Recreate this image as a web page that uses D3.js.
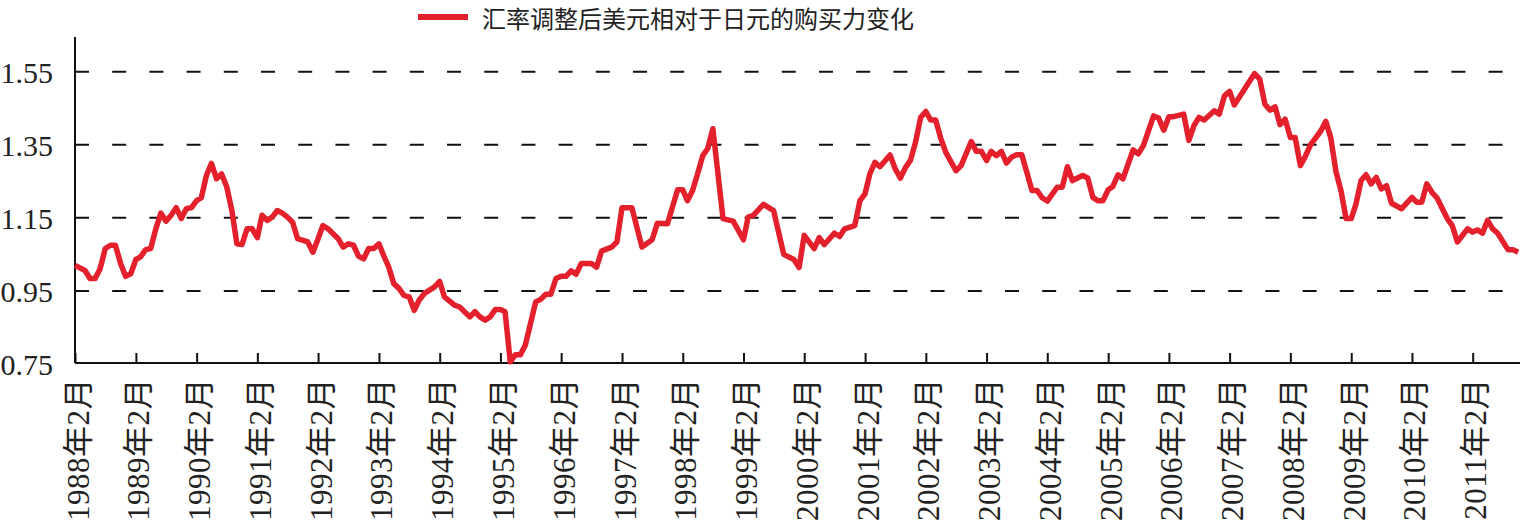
<!DOCTYPE html>
<html>
<head>
<meta charset="utf-8">
<script src="https://cdn.jsdelivr.net/npm/d3@7"></script>
<style>
  html, body { margin: 0; padding: 0; background: #fff; }
  svg { display: block; }
  .axis path, .axis line { stroke: #111; stroke-width: 2; }
  .axis text { fill: #222; font-family: "Liberation Serif", "Noto Sans CJK SC", serif; }
  .grid line { stroke: #111; stroke-width: 2; stroke-dasharray: 14 23.2; }
</style>
</head>
<body>
<svg id="canvas" width="1520" height="526"></svg>
<script>
const legendLabel = "汇率调整后美元相对于日元的购买力变化";
const yTicks = [0.75, 0.95, 1.15, 1.35, 1.55];
const xTickYears = d3.range(1988, 2012);

const dates = [
  "1988-02","1988-04","1988-05","1988-06","1988-07","1988-08","1988-09","1988-10","1988-11","1988-12",
  "1989-01","1989-02","1989-03","1989-04","1989-05","1989-06","1989-07","1989-08","1989-09","1989-10","1989-11","1989-12",
  "1990-01","1990-02","1990-03","1990-04","1990-05","1990-06","1990-07","1990-08","1990-09","1990-10","1990-11","1990-12",
  "1991-01","1991-02","1991-03","1991-04","1991-05","1991-06","1991-07","1991-08","1991-09","1991-10","1991-12",
  "1992-01","1992-02","1992-03","1992-04","1992-06","1992-07","1992-08","1992-09","1992-10","1992-11","1992-12",
  "1993-01","1993-02","1993-03","1993-04","1993-05","1993-06","1993-07","1993-08","1993-09","1993-10","1993-11",
  "1994-01","1994-02","1994-03","1994-05","1994-06","1994-08","1994-09","1994-10","1994-11","1994-12",
  "1995-01","1995-02","1995-03","1995-04","1995-05","1995-06","1995-07","1995-09","1995-10","1995-11","1995-12",
  "1996-01","1996-02","1996-03","1996-04","1996-05","1996-06","1996-08","1996-09","1996-10","1996-12",
  "1997-01","1997-02","1997-04","1997-06","1997-08","1997-09","1997-11",
  "1998-01","1998-02","1998-03","1998-04","1998-05","1998-06","1998-07","1998-08","1998-10","1998-12",
  "1999-02","1999-03","1999-04","1999-06","1999-08","1999-10","1999-12",
  "2000-01","2000-02","2000-04","2000-05","2000-06","2000-08","2000-09","2000-10","2000-12",
  "2001-01","2001-02","2001-03","2001-04","2001-05","2001-07","2001-08","2001-09","2001-10","2001-11","2001-12",
  "2002-01","2002-02","2002-03","2002-04","2002-05","2002-06","2002-08","2002-09","2002-11","2002-12",
  "2003-01","2003-02","2003-03","2003-04","2003-05","2003-06","2003-07","2003-08","2003-09","2003-11","2003-12",
  "2004-01","2004-02","2004-04","2004-05","2004-06","2004-07","2004-09","2004-10","2004-11","2004-12",
  "2005-01","2005-02","2005-03","2005-04","2005-05","2005-07","2005-08","2005-09","2005-11","2005-12",
  "2006-01","2006-02","2006-03","2006-05","2006-06","2006-07","2006-08","2006-09","2006-11","2006-12",
  "2007-01","2007-02","2007-03","2007-07","2007-08","2007-09","2007-10","2007-11","2007-12",
  "2008-01","2008-02","2008-03","2008-04","2008-05","2008-06","2008-08","2008-09","2008-10","2008-11","2008-12",
  "2009-01","2009-02","2009-03","2009-04","2009-05","2009-06","2009-07","2009-08","2009-09","2009-10","2009-12",
  "2010-02","2010-03","2010-04","2010-05","2010-06","2010-07","2010-09","2010-10","2010-11",
  "2011-01","2011-02","2011-03","2011-04","2011-05","2011-06","2011-07","2011-09","2011-10","2011-11"
];

const values = [
  1.020,1.006,0.984,0.984,1.011,1.066,1.075,1.075,1.025,0.990,
  0.997,1.036,1.043,1.063,1.066,1.120,1.163,1.141,1.157,1.178,1.148,1.175,
  1.178,1.197,1.205,1.266,1.299,1.257,1.270,1.235,1.170,1.079,1.077,1.120,
  1.120,1.096,1.157,1.143,1.152,1.170,1.163,1.152,1.138,1.093,1.084,
  1.056,1.093,1.129,1.120,1.093,1.070,1.079,1.075,1.045,1.038,1.066,
  1.066,1.079,1.047,1.015,0.970,0.957,0.938,0.934,0.897,0.925,0.943,
  0.961,0.976,0.934,0.911,0.906,0.879,0.893,0.879,0.870,0.879,
  0.899,0.899,0.893,0.756,0.775,0.775,0.802,0.920,0.927,0.941,0.941,
  0.984,0.990,0.990,1.005,0.996,1.025,1.025,1.015,1.059,1.070,
  1.084,1.178,1.178,1.070,1.090,1.135,1.134,
  1.227,1.227,1.197,1.225,1.270,1.320,1.340,1.394,1.148,1.141,
  1.090,1.152,1.157,1.187,1.170,1.050,1.036,
  1.014,1.102,1.066,1.096,1.077,1.108,1.099,1.120,1.129,
  1.197,1.216,1.270,1.302,1.290,1.322,1.284,1.259,1.287,1.308,1.357,
  1.425,1.441,1.418,1.418,1.369,1.329,1.279,1.293,1.359,1.332,
  1.332,1.307,1.332,1.320,1.332,1.300,1.316,1.323,1.323,1.225,1.225,
  1.205,1.196,1.234,1.234,1.290,1.252,1.266,1.259,1.206,1.197,
  1.197,1.227,1.236,1.268,1.257,1.336,1.325,1.348,1.429,1.423,
  1.390,1.427,1.427,1.434,1.362,1.402,1.425,1.418,1.443,1.434,
  1.484,1.496,1.459,1.545,1.530,1.461,1.445,1.454,1.405,
  1.420,1.370,1.370,1.293,1.318,1.350,1.387,1.414,1.369,1.277,1.225,
  1.148,1.148,1.187,1.252,1.268,1.243,1.261,1.229,1.238,1.190,1.175,
  1.206,1.193,1.193,1.243,1.220,1.205,1.148,1.129,1.084,
  1.120,1.111,1.117,1.108,1.143,1.120,1.108,1.063,1.063,1.056
];

const svg = d3.select("#canvas");
const parseMonth = d3.timeParse("%Y-%m");
const data = dates.map((d, i) => ({ date: parseMonth(d), value: values[i] }));

const plotLeft = 75, plotBottom = 363, plotTop = 37, plotRight = 1520;

const x = d3.scaleTime()
    .domain([new Date(1988, 1, 1), new Date(2011, 1, 1)])
    .range([plotLeft, 1472.7]);
const y = d3.scaleLinear()
    .domain([0.75, 1.645])
    .range([364, plotTop]);

// dashed grid
svg.append("g").attr("class", "grid")
  .selectAll("line")
  .data(yTicks.slice(1))
  .join("line")
    .attr("x1", plotLeft).attr("x2", plotRight)
    .attr("y1", d => y(d)).attr("y2", d => y(d));

// y axis
const yAxis = svg.append("g").attr("class", "axis")
    .attr("transform", `translate(${plotLeft},0)`)
    .call(d3.axisLeft(y).tickValues(yTicks).tickSize(0).tickPadding(22)
      .tickFormat(d3.format(".2f")));
yAxis.select(".domain").attr("d", `M0,${plotTop}V${plotBottom}`);
yAxis.selectAll("text").attr("font-size", 30).attr("dy", "0.35em");

// x axis
const xAxis = svg.append("g").attr("class", "axis")
    .attr("transform", `translate(0,${plotBottom})`)
    .call(d3.axisBottom(x)
      .tickValues(xTickYears.map(yr => new Date(yr, 1, 1)))
      .tickSizeInner(-10).tickSizeOuter(0)
      .tickFormat(d => `${d.getFullYear()}年2月`));
xAxis.select(".domain").attr("d", `M${plotLeft},0H${plotRight}`);
xAxis.selectAll("text")
    .attr("font-size", 31)
    .attr("letter-spacing", 0.5)
    .attr("text-anchor", "end")
    .attr("y", 0).attr("dy", 0)
    .attr("transform", "translate(13,15) rotate(-90)");

// line
svg.append("path")
    .datum(data)
    .attr("fill", "none")
    .attr("stroke", "#e3202c")
    .attr("stroke-width", 5.5)
    .attr("stroke-linejoin", "round")
    .attr("d", d3.line().x(d => x(d.date)).y(d => y(d.value)));

// legend
const legend = svg.append("g").attr("transform", "translate(418,17)");
legend.append("line")
    .attr("x1", 0).attr("x2", 50)
    .attr("stroke", "#e3202c").attr("stroke-width", 6);
legend.append("text")
    .attr("x", 64).attr("y", 11)
    .attr("font-size", 24)
    .attr("fill", "#222")
    .attr("font-family", "'Noto Sans CJK SC', sans-serif")
    .text(legendLabel);
</script>
</body>
</html>
